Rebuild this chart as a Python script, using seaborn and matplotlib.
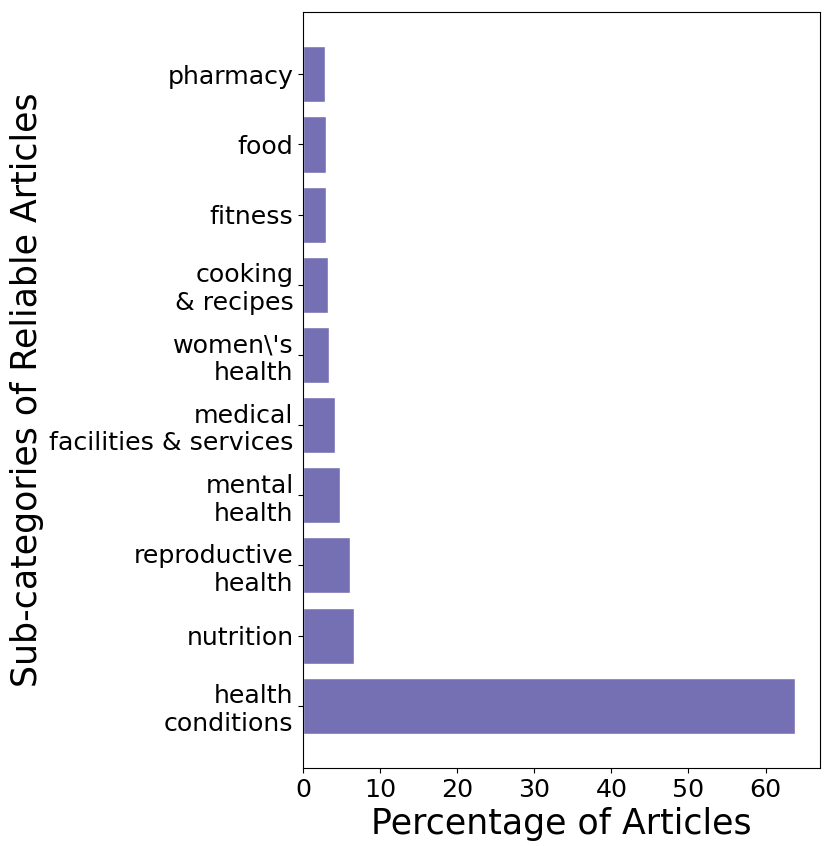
import pandas as pd
import matplotlib
matplotlib.use("Agg")
import matplotlib.pyplot as plt
import seaborn as sns

# sub-categories, top to bottom
categories = ["pharmacy", "food", "fitness", "cooking\n& recipes", "women\\'s\nhealth",
              "medical\nfacilities & services", "mental\nhealth", "reproductive\nhealth",
              "nutrition", "health\nconditions"]
percentages = [2.85, 3.0, 3.0, 3.15, 3.35, 4.15, 4.7, 6.0, 6.6, 63.8]

df = pd.DataFrame({"category": categories, "percent": percentages})

sns.set_theme(style="ticks", rc={
    "axes.edgecolor": "black", "axes.linewidth": 0.8,
    "xtick.major.size": 3.5, "ytick.major.size": 3.5,
    "xtick.major.width": 0.8, "ytick.major.width": 0.8,
    "xtick.color": "black", "ytick.color": "black",
    "axes.labelcolor": "black", "text.color": "black",
})
plt.rcParams["font.family"] = ["DejaVu Sans"]

fig, ax = plt.subplots(figsize=(8.31, 8.46), dpi=100)
fig.subplots_adjust(left=0.365, right=0.987, top=0.986, bottom=0.092)

sns.barplot(data=df, x="percent", y="category", orient="h", color="#7570b3",
            saturation=1, width=0.8, ax=ax)

ax.set_ylim(9.89, -0.89)
ax.set_xlim(0, 67.1)
ax.set_xticks([0, 10, 20, 30, 40, 50, 60])
ax.tick_params(axis="both", labelsize=18.2)
ax.set_xlabel("Percentage of Articles", fontsize=25)
ax.set_ylabel("Sub-categories of Reliable Articles", fontsize=25)

fig.savefig("out.png", dpi=100)
